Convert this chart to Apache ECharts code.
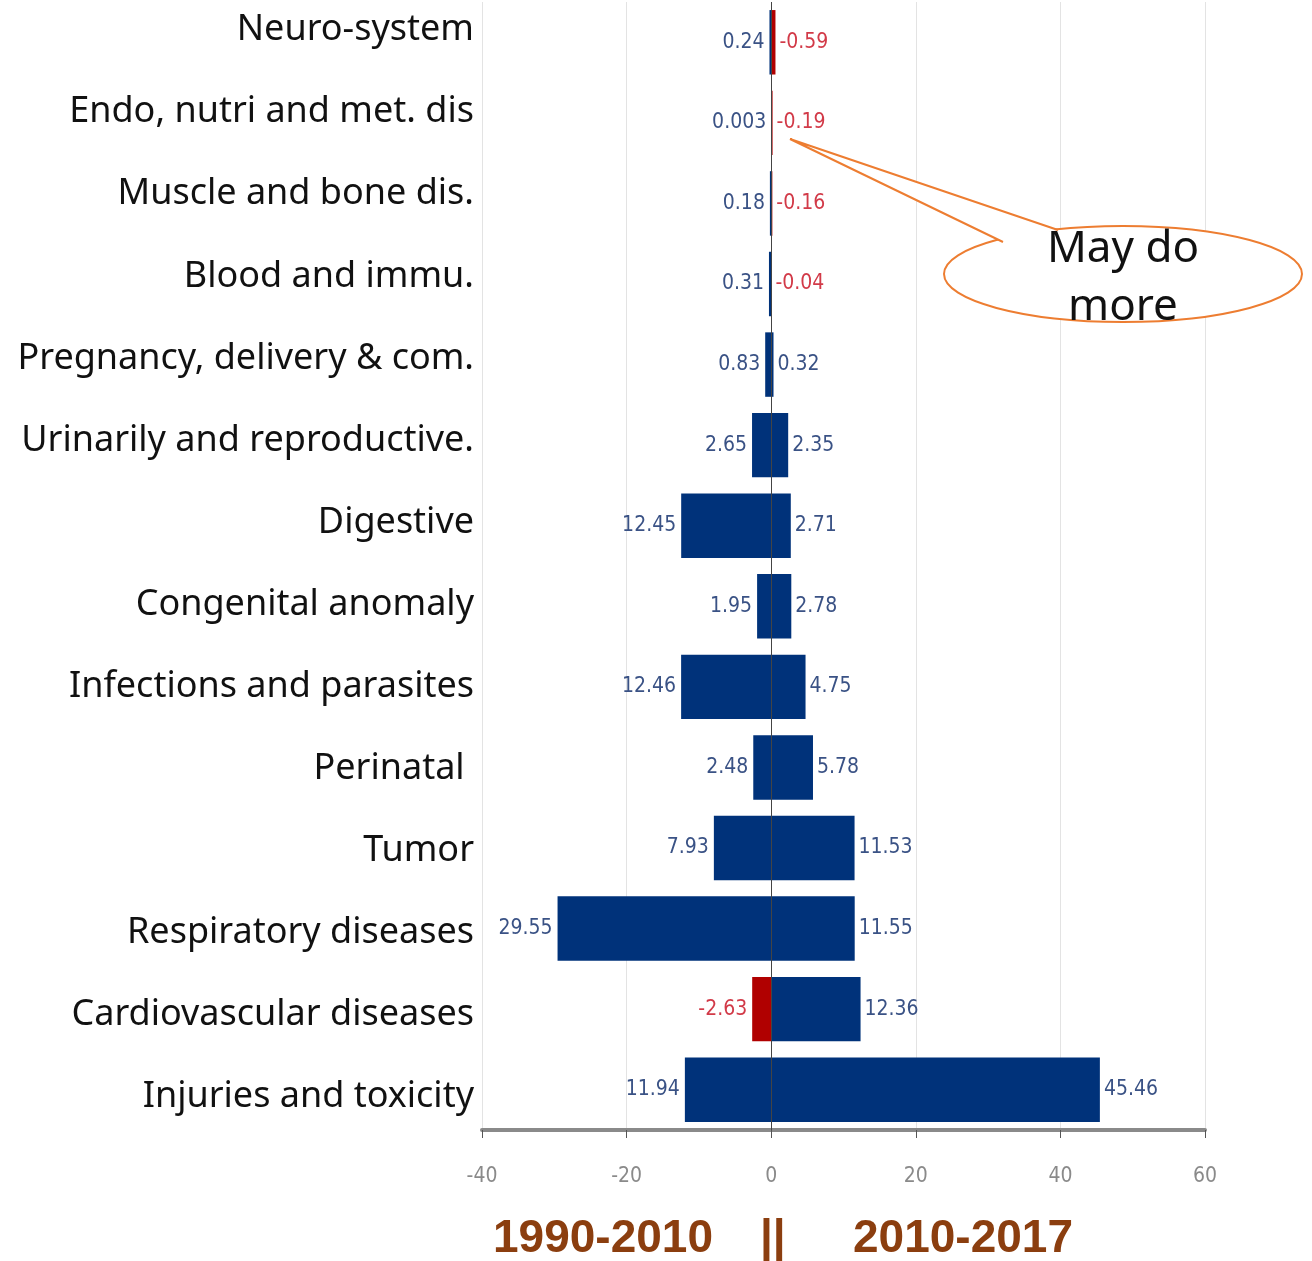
<!DOCTYPE html>
<html>
<head>
<meta charset="utf-8">
<script src="https://cdn.jsdelivr.net/npm/echarts@6/dist/echarts.min.js"></script>
<style>
  html, body { margin: 0; padding: 0; background: #fff; }
  #chart { width: 1312px; height: 1261px; }
</style>
</head>
<body>
<div id="chart"></div>
<script>
// categories top to bottom
const categories = [
  'Neuro-system',
  'Endo, nutri and met. dis',
  'Muscle and bone dis.',
  'Blood and immu.',
  'Pregnancy, delivery & com.',
  'Urinarily and reproductive.',
  'Digestive',
  'Congenital anomaly',
  'Infections and parasites',
  'Perinatal ',
  'Tumor',
  'Respiratory diseases',
  'Cardiovascular diseases',
  'Injuries and toxicity'
]
// 1990-2010 change (drawn to the left)
const period1 = [0.24, 0.003, 0.18, 0.31, 0.83, 2.65, 12.45, 1.95, 12.46, 2.48, 7.93, 29.55, -2.63, 11.94]
// 2010-2017 change (drawn to the right)
const period2 = [-0.59, -0.19, -0.16, -0.04, 0.32, 2.35, 2.71, 2.78, 4.75, 5.78, 11.53, 11.55, 12.36, 45.46]
const xTicks = [-40, -20, 0, 20, 40, 60]

const BLUE = '#00327a'
const RED = '#b00000'
const LBL_BLUE = '#3a5285'
const LBL_RED = '#d23a48'
const NARROW = "'Liberation Sans Narrow', 'DejaVu Sans Condensed', 'Roboto', sans-serif"
const CAPTION = "bold 46px 'Liberation Sans', Arial, sans-serif"

const makeData = (vals, side) => vals.map(v => ({
  value: side * Math.abs(v),
  itemStyle: { color: v < 0 ? RED : BLUE },
  label: { color: v < 0 ? LBL_RED : LBL_BLUE }
}))

const chart = echarts.init(document.getElementById('chart'))

const option = {
  animation: false,
  grid: [
    { left: 482, right: 107, top: 2, bottom: 131 },
    // label column, spaced a little wider than the bars like the source
    { left: 482, right: 107, top: 0, height: 1149 }
  ],
  xAxis: [{
    type: 'value',
    gridIndex: 0,
    min: xTicks[0],
    max: xTicks[xTicks.length - 1],
    interval: 20,
    axisLine: { show: true, onZero: false, lineStyle: { color: '#8a8a8a', width: 4 } },
    axisTick: { show: true, length: 8, lineStyle: { color: '#555', width: 1 } },
    axisLabel: { color: '#8a8a8a', fontSize: 21, fontFamily: NARROW, margin: 36 },
    splitLine: { show: true, lineStyle: { color: '#e3e3e3', width: 1 } }
  }, {
    type: 'value',
    gridIndex: 1,
    show: false
  }],
  yAxis: [{
    type: 'category',
    gridIndex: 0,
    inverse: true,
    data: categories,
    axisLine: { show: false },
    axisTick: { show: false },
    axisLabel: { show: false }
  }, {
    type: 'category',
    gridIndex: 1,
    inverse: true,
    data: categories,
    axisLine: { show: false },
    axisTick: { show: false },
    splitLine: { show: false },
    axisLabel: {
      color: '#111',
      fontSize: 36,
      fontFamily: "'Noto Sans', sans-serif",
      margin: 8,
      lineHeight: 22,
      verticalAlign: 'bottom'
    }
  }],
  series: [{
    name: '1990-2010',
    type: 'bar',
    stack: 'a',
    barWidth: '80%',
    data: makeData(period1, -1),
    label: {
      show: true,
      position: 'left',
      distance: 5,
      fontSize: 21,
      fontFamily: NARROW,
      formatter: p => String(period1[p.dataIndex])
    },
    markLine: {
      silent: true,
      symbol: 'none',
      label: { show: false },
      lineStyle: { color: '#444', width: 1, type: 'solid' },
      data: [{ xAxis: 0 }]
    }
  }, {
    name: '2010-2017',
    type: 'bar',
    stack: 'a',
    barWidth: '80%',
    data: makeData(period2, 1),
    label: {
      show: true,
      position: 'right',
      distance: 4,
      fontSize: 21,
      fontFamily: NARROW,
      formatter: p => String(period2[p.dataIndex])
    }
  }],
  graphic: [
    // period captions under the axis
    { type: 'text', left: 493, top: 1216, style: { text: '1990-2010', fill: '#8b3e0f', font: CAPTION } },
    { type: 'text', left: 760, top: 1216, style: { text: '||', fill: '#8b3e0f', font: CAPTION } },
    { type: 'text', left: 853, top: 1216, style: { text: '2010-2017', fill: '#8b3e0f', font: CAPTION } },
    // callout bubble
    {
      type: 'ellipse', z: 100,
      shape: { cx: 1123, cy: 274, rx: 179, ry: 48 },
      style: { fill: '#fff', stroke: '#ed7d31', lineWidth: 2 }
    },
    {
      type: 'polygon', z: 101,
      shape: { points: [[1003, 242], [790, 139], [1058, 230]] },
      style: { fill: '#fff', stroke: null }
    },
    {
      type: 'polyline', z: 102,
      shape: { points: [[1003, 242], [790, 139], [1058, 230]] },
      style: { stroke: '#ed7d31', lineWidth: 2, fill: null }
    },
    {
      type: 'text', z: 103, x: 1123, y: 220,
      style: {
        text: 'May do\nmore',
        fill: '#111',
        font: "44px 'Noto Sans', sans-serif",
        lineHeight: 58,
        align: 'center',
        verticalAlign: 'top'
      }
    }
  ]
}

chart.setOption(option)
</script>
</body>
</html>
